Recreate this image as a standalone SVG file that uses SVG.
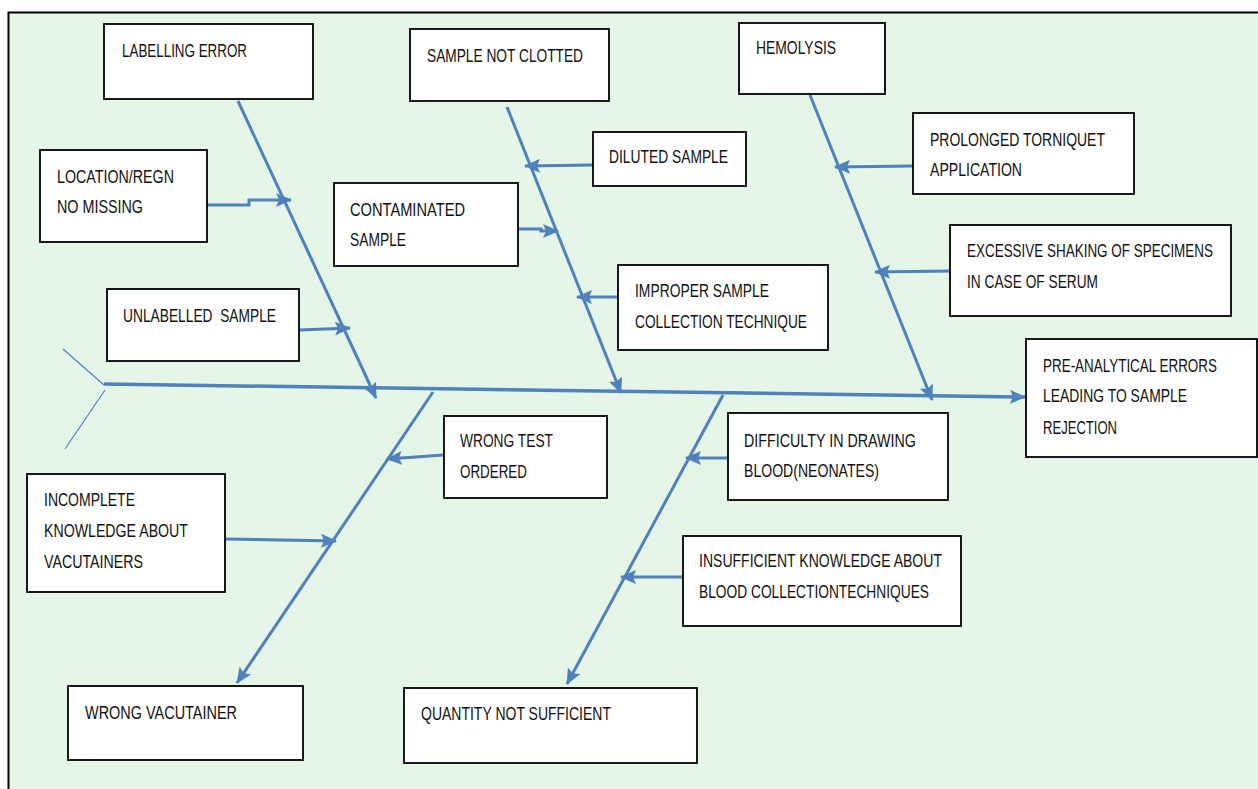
<svg xmlns="http://www.w3.org/2000/svg" width="1258" height="789" viewBox="0 0 1258 789">
<defs>
<marker id="ah" markerUnits="userSpaceOnUse" markerWidth="16" markerHeight="14" refX="15" refY="7" orient="auto" viewBox="0 0 16 14">
<path d="M0,0 L16,7 L0,14 L3,7 z" fill="#4f81bd"/>
</marker>
<style>
.bx{fill:#ffffff;stroke:#000000;stroke-width:1.8}
.t{font-family:"Liberation Sans",Arial,sans-serif;font-size:18px;fill:#111111}
.c{fill:none;stroke:#4f81bd;stroke-width:3}
.a{marker-end:url(#ah)}
.tail{fill:none;stroke:#4f81bd;stroke-width:1.2}
</style>
</defs>
<rect x="0" y="0" width="1258" height="789" fill="#ffffff"/>
<rect x="8.5" y="12.5" width="1260" height="790" fill="#e5f5e8" stroke="#000000" stroke-width="2"/>

<g id="connectors">
<line class="tail" x1="63" y1="349" x2="104" y2="385"/>
<line class="tail" x1="105" y1="390" x2="65" y2="449"/>
<line class="c a" x1="104" y1="384" x2="1025" y2="397" style="stroke-width:3.5"/>
<line class="c a" x1="238" y1="101" x2="376" y2="398"/>
<polyline class="c a" points="207,205 249,205 249,200 291,200"/>
<line class="c a" x1="300" y1="330" x2="350" y2="328"/>
<line class="c a" x1="507" y1="107" x2="621" y2="393"/>
<line class="c a" x1="593" y1="165" x2="525" y2="166"/>
<polyline class="c a" points="518,229 541,229 541,231 558,231"/>
<line class="c a" x1="618" y1="297" x2="577" y2="297"/>
<line class="c a" x1="810" y1="95" x2="932" y2="400"/>
<line class="c a" x1="913" y1="166" x2="835" y2="167"/>
<line class="c a" x1="950" y1="271" x2="875" y2="272"/>
<line class="c a" x1="433" y1="392" x2="237" y2="683"/>
<line class="c a" x1="444" y1="455" x2="387" y2="459"/>
<line class="c a" x1="225" y1="539" x2="336" y2="541"/>
<line class="c a" x1="723" y1="395" x2="567" y2="684"/>
<line class="c a" x1="728" y1="458" x2="686" y2="458"/>
<line class="c a" x1="683" y1="577" x2="621" y2="577"/>
</g>

<g id="n-labelling"><rect class="bx" x="104" y="24" width="209" height="75"/><text class="t" transform="translate(122 57) scale(0.75 1)" textLength="166.7" lengthAdjust="spacingAndGlyphs">LABELLING ERROR</text></g>
<g id="n-notclotted"><rect class="bx" x="410" y="29" width="199" height="72"/><text class="t" transform="translate(427 62) scale(0.75 1)" textLength="208" lengthAdjust="spacingAndGlyphs">SAMPLE NOT CLOTTED</text></g>
<g id="n-hemolysis"><rect class="bx" x="739" y="23" width="146" height="71"/><text class="t" transform="translate(756 54) scale(0.75 1)" textLength="106.7" lengthAdjust="spacingAndGlyphs">HEMOLYSIS</text></g>
<g id="n-location"><rect class="bx" x="40" y="150" width="167" height="92"/><text class="t" transform="translate(57 183) scale(0.75 1)" textLength="156" lengthAdjust="spacingAndGlyphs">LOCATION/REGN</text><text class="t" transform="translate(57 213) scale(0.75 1)" textLength="114.7" lengthAdjust="spacingAndGlyphs">NO MISSING</text></g>
<g id="n-diluted"><rect class="bx" x="593" y="132" width="153" height="54"/><text class="t" transform="translate(609 163) scale(0.75 1)" textLength="158.7" lengthAdjust="spacingAndGlyphs">DILUTED SAMPLE</text></g>
<g id="n-prolonged"><rect class="bx" x="913" y="113" width="221" height="81"/><text class="t" transform="translate(930 146) scale(0.75 1)" textLength="233.3" lengthAdjust="spacingAndGlyphs">PROLONGED TORNIQUET</text><text class="t" transform="translate(930 176) scale(0.75 1)" textLength="122.7" lengthAdjust="spacingAndGlyphs">APPLICATION</text></g>
<g id="n-contaminated"><rect class="bx" x="334" y="183" width="184" height="83"/><text class="t" transform="translate(350 216) scale(0.75 1)" textLength="153.3" lengthAdjust="spacingAndGlyphs">CONTAMINATED</text><text class="t" transform="translate(350 246) scale(0.75 1)" textLength="74.7" lengthAdjust="spacingAndGlyphs">SAMPLE</text></g>
<g id="n-shaking"><rect class="bx" x="950" y="225" width="281" height="91"/><text class="t" transform="translate(967 257) scale(0.75 1)" textLength="328" lengthAdjust="spacingAndGlyphs">EXCESSIVE SHAKING OF SPECIMENS</text><text class="t" transform="translate(967 288) scale(0.75 1)" textLength="174.7" lengthAdjust="spacingAndGlyphs">IN CASE OF SERUM</text></g>
<g id="n-improper"><rect class="bx" x="618" y="265" width="210" height="85"/><text class="t" transform="translate(635 297) scale(0.75 1)" textLength="178.7" lengthAdjust="spacingAndGlyphs">IMPROPER SAMPLE</text><text class="t" transform="translate(635 328) scale(0.75 1)" textLength="229.3" lengthAdjust="spacingAndGlyphs">COLLECTION TECHNIQUE</text></g>
<g id="n-unlabelled"><rect class="bx" x="107" y="289" width="192" height="72"/><text class="t" transform="translate(123 322) scale(0.75 1)" textLength="204" lengthAdjust="spacingAndGlyphs" xml:space="preserve">UNLABELLED  SAMPLE</text></g>
<g id="n-effect"><rect class="bx" x="1026" y="339" width="231" height="118"/><text class="t" transform="translate(1043 372) scale(0.75 1)" textLength="232" lengthAdjust="spacingAndGlyphs">PRE-ANALYTICAL ERRORS</text><text class="t" transform="translate(1043 402) scale(0.75 1)" textLength="192" lengthAdjust="spacingAndGlyphs">LEADING TO SAMPLE</text><text class="t" transform="translate(1043 434) scale(0.75 1)" textLength="98.7" lengthAdjust="spacingAndGlyphs">REJECTION</text></g>
<g id="n-wrongtest"><rect class="bx" x="444" y="416" width="163" height="82"/><text class="t" transform="translate(460 447) scale(0.75 1)" textLength="124" lengthAdjust="spacingAndGlyphs">WRONG TEST</text><text class="t" transform="translate(460 478) scale(0.75 1)" textLength="89.3" lengthAdjust="spacingAndGlyphs">ORDERED</text></g>
<g id="n-difficulty"><rect class="bx" x="728" y="413" width="220" height="87"/><text class="t" transform="translate(744 447) scale(0.75 1)" textLength="229.3" lengthAdjust="spacingAndGlyphs">DIFFICULTY IN DRAWING</text><text class="t" transform="translate(744 477) scale(0.75 1)" textLength="180" lengthAdjust="spacingAndGlyphs">BLOOD(NEONATES)</text></g>
<g id="n-incomplete"><rect class="bx" x="27" y="474" width="198" height="118"/><text class="t" transform="translate(44 506) scale(0.75 1)" textLength="121.3" lengthAdjust="spacingAndGlyphs">INCOMPLETE</text><text class="t" transform="translate(44 537) scale(0.75 1)" textLength="192" lengthAdjust="spacingAndGlyphs">KNOWLEDGE ABOUT</text><text class="t" transform="translate(44 568) scale(0.75 1)" textLength="132" lengthAdjust="spacingAndGlyphs">VACUTAINERS</text></g>
<g id="n-insufficient"><rect class="bx" x="683" y="536" width="278" height="90"/><text class="t" transform="translate(699 567) scale(0.75 1)" textLength="324" lengthAdjust="spacingAndGlyphs">INSUFFICIENT KNOWLEDGE ABOUT</text><text class="t" transform="translate(699 598) scale(0.75 1)" textLength="306.7" lengthAdjust="spacingAndGlyphs">BLOOD COLLECTIONTECHNIQUES</text></g>
<g id="n-wrongvac"><rect class="bx" x="68" y="686" width="235" height="74"/><text class="t" transform="translate(85 719) scale(0.75 1)" textLength="202.7" lengthAdjust="spacingAndGlyphs">WRONG VACUTAINER</text></g>
<g id="n-quantity"><rect class="bx" x="404" y="688" width="293" height="75"/><text class="t" transform="translate(421 720) scale(0.75 1)" textLength="253.3" lengthAdjust="spacingAndGlyphs">QUANTITY NOT SUFFICIENT</text></g>
</svg>
